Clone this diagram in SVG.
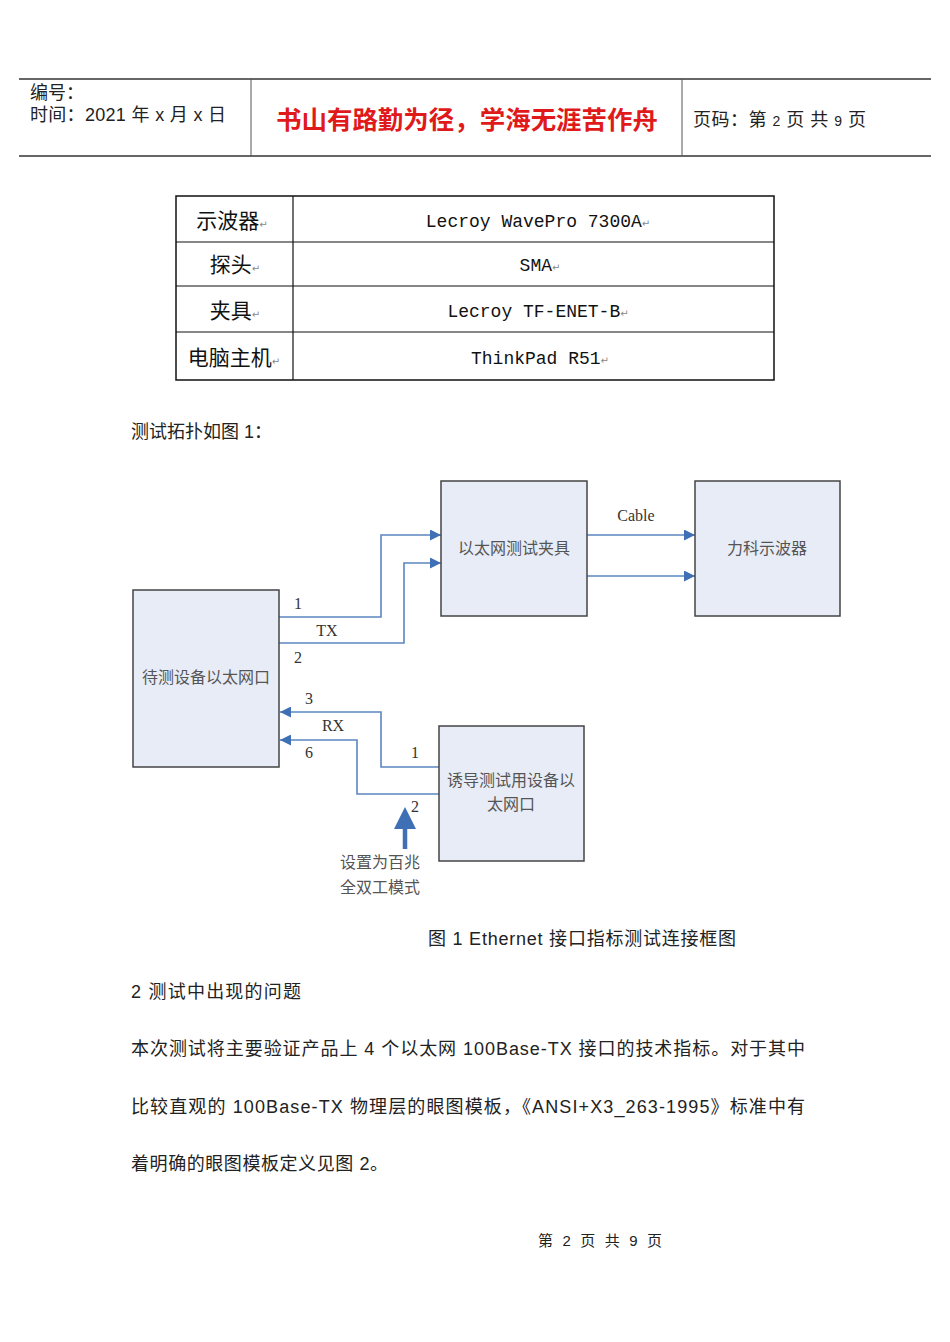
<svg xmlns="http://www.w3.org/2000/svg" width="950" height="1342" viewBox="0 0 950 1342">
<style>
.cjk{font-family:"Liberation Sans","Noto Sans CJK SC",sans-serif;fill:#222}
.body{font-size:18px}
.tbl{font-family:"Noto Sans CJK SC",sans-serif;font-size:21px;fill:#111;text-anchor:middle}
.mono{font-family:"Liberation Mono","Noto Sans CJK SC",monospace;font-size:18px;fill:#111;text-anchor:middle}
.ret{font-family:"DejaVu Sans",sans-serif;font-size:10px;fill:#888}
.box{fill:#e7ecf6;stroke:#444;stroke-width:1.5}
.btxt{font-family:"Noto Sans CJK SC",sans-serif;font-size:16px;fill:#555;text-anchor:middle}
.lbl{font-family:"Liberation Serif",serif;font-size:16px;fill:#333;text-anchor:middle}
.wire{fill:none;stroke:#5b86c0;stroke-width:1.6}
.hl{stroke:#666;stroke-width:2}
</style>
<defs>
<marker id="ah" viewBox="0 0 10 10" refX="10" refY="5" markerWidth="15" markerHeight="11" markerUnits="userSpaceOnUse" orient="auto">
<path d="M0,0 L10,5 L0,10 z" fill="#3f6fb5"/>
</marker>
</defs>
<rect width="950" height="1342" fill="#fff"/>

<g id="header">
<line class="hl" x1="19" y1="79" x2="931" y2="79"/>
<line class="hl" x1="19" y1="156" x2="931" y2="156"/>
<line x1="251" y1="79" x2="251" y2="156" stroke="#555" stroke-width="1"/>
<line x1="682" y1="79" x2="682" y2="156" stroke="#555" stroke-width="1"/>
<text class="cjk" x="30" y="99" font-size="18">编号：</text>
<text class="cjk" x="30" y="121" font-size="18" textLength="196" lengthAdjust="spacing">时间：2021 年 x 月 x 日</text>
<text x="276" y="129" font-family="Noto Sans CJK SC,sans-serif" font-size="25" fill="#e0191b" font-weight="bold" textLength="382" lengthAdjust="spacingAndGlyphs">书山有路勤为径，学海无涯苦作舟</text>
<text class="cjk" x="693" y="126" font-size="18" textLength="173" lengthAdjust="spacing">页码：第 <tspan font-size="14">2</tspan> 页  共 <tspan font-size="14">9</tspan> 页</text>
</g>

<g id="table">
<rect x="176" y="196" width="598" height="184" fill="none" stroke="#111" stroke-width="1.5"/>
<line x1="293" y1="196" x2="293" y2="380" stroke="#111" stroke-width="1.2"/>
<line x1="176" y1="242" x2="774" y2="242" stroke="#111" stroke-width="1.2"/>
<line x1="176" y1="286" x2="774" y2="286" stroke="#111" stroke-width="1.2"/>
<line x1="176" y1="332" x2="774" y2="332" stroke="#111" stroke-width="1.2"/>
<text class="tbl" x="232" y="228">示波器<tspan class="ret">↵</tspan></text>
<text class="tbl" x="235" y="272">探头<tspan class="ret">↵</tspan></text>
<text class="tbl" x="235" y="318">夹具<tspan class="ret">↵</tspan></text>
<text class="tbl" x="234" y="365">电脑主机<tspan class="ret">↵</tspan></text>
<text class="mono" x="538" y="227">Lecroy WavePro 7300A<tspan class="ret">↵</tspan></text>
<text class="mono" x="540" y="271">SMA<tspan class="ret">↵</tspan></text>
<text class="mono" x="538" y="317">Lecroy TF-ENET-B<tspan class="ret">↵</tspan></text>
<text class="mono" x="540" y="364">ThinkPad R51<tspan class="ret">↵</tspan></text>
</g>

<text class="cjk body" x="131" y="438" fill="#333">测试拓扑如图 1：</text>

<g id="connectors">
<path class="wire" d="M279,617 H381 V535 H441" marker-end="url(#ah)"/>
<path class="wire" d="M279,643 H404 V563 H441" marker-end="url(#ah)"/>
<path class="wire" d="M587,535 H695" marker-end="url(#ah)"/>
<path class="wire" d="M587,576 H695" marker-end="url(#ah)"/>
<path class="wire" d="M439,767 H381 V712 H280" marker-end="url(#ah)"/>
<path class="wire" d="M439,794 H357 V740 H280" marker-end="url(#ah)"/>
<line x1="405" y1="849" x2="405" y2="826" stroke="#3f6fb5" stroke-width="4.5"/>
<polygon points="394,829 416,829 405,807" fill="#3f6fb5"/>
<text class="lbl" x="298" y="609">1</text>
<text class="lbl" x="327" y="636">TX</text>
<text class="lbl" x="298" y="663">2</text>
<text class="lbl" x="636" y="521">Cable</text>
<text class="lbl" x="309" y="704">3</text>
<text class="lbl" x="333" y="731">RX</text>
<text class="lbl" x="309" y="758">6</text>
<text class="lbl" x="415" y="758">1</text>
<text class="lbl" x="415" y="812">2</text>
<text class="btxt" x="380" y="868">设置为百兆</text>
<text class="btxt" x="380" y="893">全双工模式</text>
</g>

<g id="node-fixture">
<rect class="box" x="441" y="481" width="146" height="135"/>
<text class="btxt" x="514" y="554">以太网测试夹具</text>
</g>
<g id="node-scope">
<rect class="box" x="695" y="481" width="145" height="135"/>
<text class="btxt" x="767" y="554">力科示波器</text>
</g>
<g id="node-dut">
<rect class="box" x="133" y="590" width="146" height="177"/>
<text class="btxt" x="206" y="683">待测设备以太网口</text>
</g>
<g id="node-aux">
<rect class="box" x="439" y="726" width="145" height="135"/>
<text class="btxt" x="511" y="786">诱导测试用设备以</text>
<text class="btxt" x="511" y="810">太网口</text>
</g>

<g id="text-body" fill="#333">
<text class="cjk body" x="428" y="945" textLength="308" lengthAdjust="spacing">图 1 Ethernet 接口指标测试连接框图</text>
<text class="cjk body" x="131" y="998" textLength="170" lengthAdjust="spacing">2 测试中出现的问题</text>
<text class="cjk body" x="131" y="1055" textLength="674" lengthAdjust="spacing">本次测试将主要验证产品上 4 个以太网 100Base-TX 接口的技术指标。对于其中</text>
<text class="cjk body" x="131" y="1113" textLength="674" lengthAdjust="spacing">比较直观的 100Base-TX 物理层的眼图模板，《ANSI+X3_263-1995》标准中有</text>
<text class="cjk body" x="131" y="1170" textLength="257" lengthAdjust="spacing">着明确的眼图模板定义见图 2。</text>
<text class="cjk" x="538" y="1246" font-size="15" textLength="124" lengthAdjust="spacing">第 2 页 共 9 页</text>
</g>
</svg>
